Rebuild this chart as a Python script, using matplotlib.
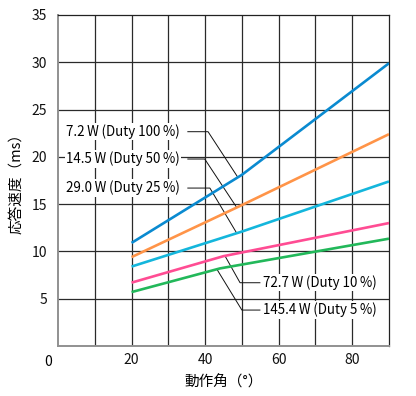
import matplotlib
matplotlib.use("Agg")
import matplotlib.pyplot as plt
import numpy as np

plt.rcParams['font.family'] = ['Noto Sans CJK JP', 'DejaVu Sans']

# data
x_a = [20, 50, 90]
blue_y = [10.9, 18.1, 29.9]
orange_y = [9.4, 14.9, 22.4]
cyan_y = [8.4, 12.1, 17.4]
x_pink = [20, 45, 90]
pink_y = [6.7, 9.5, 13.0]
x_green = [20, 44, 90]
green_y = [5.7, 8.2, 11.35]

labels = ["7.2\u2009W\u2009(Duty 100\u2009%)", "14.5\u2009W\u2009(Duty 50\u2009%)",
          "29.0\u2009W\u2009(Duty 25\u2009%)", "72.7\u2009W\u2009(Duty 10\u2009%)",
          "145.4\u2009W\u2009(Duty 5\u2009%)"]
x_ticks = [20, 40, 60, 80]
y_ticks = [5, 10, 15, 20, 25, 30, 35]
xlabel = "動作角（°）"
ylabel = "応答速度（ms）"

series = [
    (x_a, blue_y, '#0a8ad0'),
    (x_a, orange_y, '#ff9448'),
    (x_a, cyan_y, '#14b6dc'),
    (x_pink, pink_y, '#ff4c93'),
    (x_green, green_y, '#22b85a'),
]

fig = plt.figure(figsize=(4.16, 3.96), dpi=100)
ax = fig.add_axes([58/416, 1-346/396, (389-58)/416, (346-15)/396])
ax.set_xlim(0, 90)
ax.set_ylim(0, 35)

for v in range(10, 90, 10):
    ax.axvline(v, color='#2a2a2a', lw=0.9, zorder=1)
for v in range(5, 35, 5):
    ax.axhline(v, color='#2a2a2a', lw=0.9, zorder=1)

for xs, ys, c in series:
    ax.plot(xs, ys, color=c, lw=1.9, zorder=5, solid_capstyle='butt')

for side in ['left', 'bottom']:
    ax.spines[side].set_color('#909090')
    ax.spines[side].set_linewidth(1.4)
for side in ['top', 'right']:
    ax.spines[side].set_color('#222222')
    ax.spines[side].set_linewidth(0.9)

fs = 10
afs = 9.6
ax.set_xticks(x_ticks)
ax.set_yticks(y_ticks)
ax.tick_params(length=0, labelsize=fs, colors='#111111')
ax.tick_params(axis='y', pad=8)
ax.tick_params(axis='x', pad=5)
ax.text(-2.6, -1.7, "0", ha='center', va='center', fontsize=fs, clip_on=False)

ax.set_xlabel(xlabel, fontsize=10.5, labelpad=6)
ax.set_ylabel(ylabel, fontsize=10.5, labelpad=6)

bbox = dict(facecolor='white', edgecolor='none', pad=1.0)
# upper labels: (text y, knee x, target x, series index)
upper = [(22.66, 40.8, 48.9, 0), (19.77, 39.9, 48.6, 1), (16.7, 41.3, 48.6, 2)]
for (ty, kx, tx, i), lab in zip(upper, labels[:3]):
    xs, ys, c = series[i]
    ax.text(33.2, ty, lab, ha='right', va='center', fontsize=afs, bbox=bbox, zorder=3)
    ax.plot([35.3, kx, tx], [ty, ty, np.interp(tx, xs, ys)], color='#111111', lw=0.7, zorder=4)

lower = [(6.69, 49.5, 45.4, 3), (3.8, 50.0, 43.2, 4)]
for (ty, kx, tx, i), lab in zip(lower, labels[3:]):
    xs, ys, c = series[i]
    ax.text(55.7, ty, lab, ha='left', va='center', fontsize=afs, bbox=bbox, zorder=3)
    ax.plot([54.9, kx, tx], [ty, ty, np.interp(tx, xs, ys)], color='#111111', lw=0.7, zorder=4)

fig.savefig("out.png", dpi=100)
